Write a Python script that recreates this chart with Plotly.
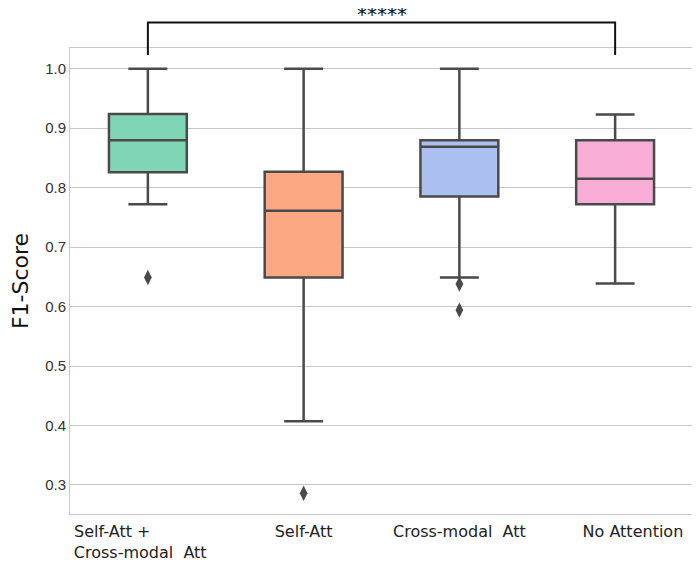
import plotly.graph_objects as go

categories = ["Self-Att +<br>Cross-modal  Att", "Self-Att", "Cross-modal  Att", "No Attention"]
upper_fence = [1.0, 1.0, 1.0, 0.923]
q3 = [0.924, 0.827, 0.880, 0.880]
median = [0.880, 0.761, 0.869, 0.815]
q1 = [0.826, 0.649, 0.785, 0.772]
lower_fence = [0.772, 0.407, 0.649, 0.639]
outliers = [[0.649], [0.286], [0.638, 0.594], []]
colors = ["#80d5b7", "#fba883", "#abbff0", "#f8acd6"]
tick_vals = [0.3, 0.4, 0.5, 0.6, 0.7, 0.8, 0.9, 1.0]
significance = "*****"

fig = go.Figure()
for i, cat in enumerate(categories):
    fig.add_trace(go.Box(
        x=[i], q1=[q1[i]], median=[median[i]], q3=[q3[i]],
        lowerfence=[lower_fence[i]], upperfence=[upper_fence[i]],
        fillcolor=colors[i], line=dict(color="#4a4a4a", width=2.5),
        width=0.5, whiskerwidth=0.5, boxpoints=False, showlegend=False,
        hoverinfo="skip"))
    if outliers[i]:
        fig.add_trace(go.Scatter(
            x=[i] * len(outliers[i]), y=outliers[i], mode="markers",
            marker=dict(symbol="diamond-tall", size=11, color="#4a4a4a"),
            showlegend=False, hoverinfo="skip"))

# significance bracket between first and last box
fig.add_shape(type="path", xref="x", yref="paper",
              path="M 0,0.985 L 0,1.0545 L 3,1.0545 L 3,0.985",
              line=dict(color="#111111", width=2))
fig.add_annotation(x=1.5, xref="x", y=1.0858, yref="paper", text=significance,
                   showarrow=False, yanchor="top", yshift=8,
                   font=dict(family="DejaVu Sans", size=20, color="#111111"))

NB = "\u00a0"
tick_text = ["Self-Att +" + NB * 14 + "<br>Cross-modal  Att" + NB * 3,
             categories[1], categories[2], NB * 7 + categories[3]]

fig.update_layout(
    width=692, height=554,
    margin=dict(l=62, r=7, t=40, b=48, autoexpand=False),
    paper_bgcolor="white", plot_bgcolor="white",
    xaxis=dict(tickmode="array", tickvals=list(range(len(categories))),
               ticktext=tick_text,
               range=[-0.5, 3.5], showgrid=False, zeroline=False,
               showline=True, linecolor="#c8c8c8", linewidth=1, mirror=True,
               ticks="", automargin=False, ticklabelstandoff=3,
               tickfont=dict(family="DejaVu Sans", size=16, color="#222222")),
    yaxis=dict(range=[0.251, 1.035], tickvals=tick_vals,
               ticktext=[f"{v:.1f}" for v in tick_vals],
               showgrid=True, gridcolor="#c8c8c8", gridwidth=1, zeroline=False,
               showline=True, linecolor="#c8c8c8", linewidth=1, mirror=True,
               ticks="", ticklen=0, automargin=False,
               tickfont=dict(family="Liberation Sans", size=15, color="#333333"),
               title=dict(text="F1-Score", standoff=12,
                          font=dict(family="DejaVu Sans", size=22, color="#111111"))),
)

fig.write_html("out.html")
